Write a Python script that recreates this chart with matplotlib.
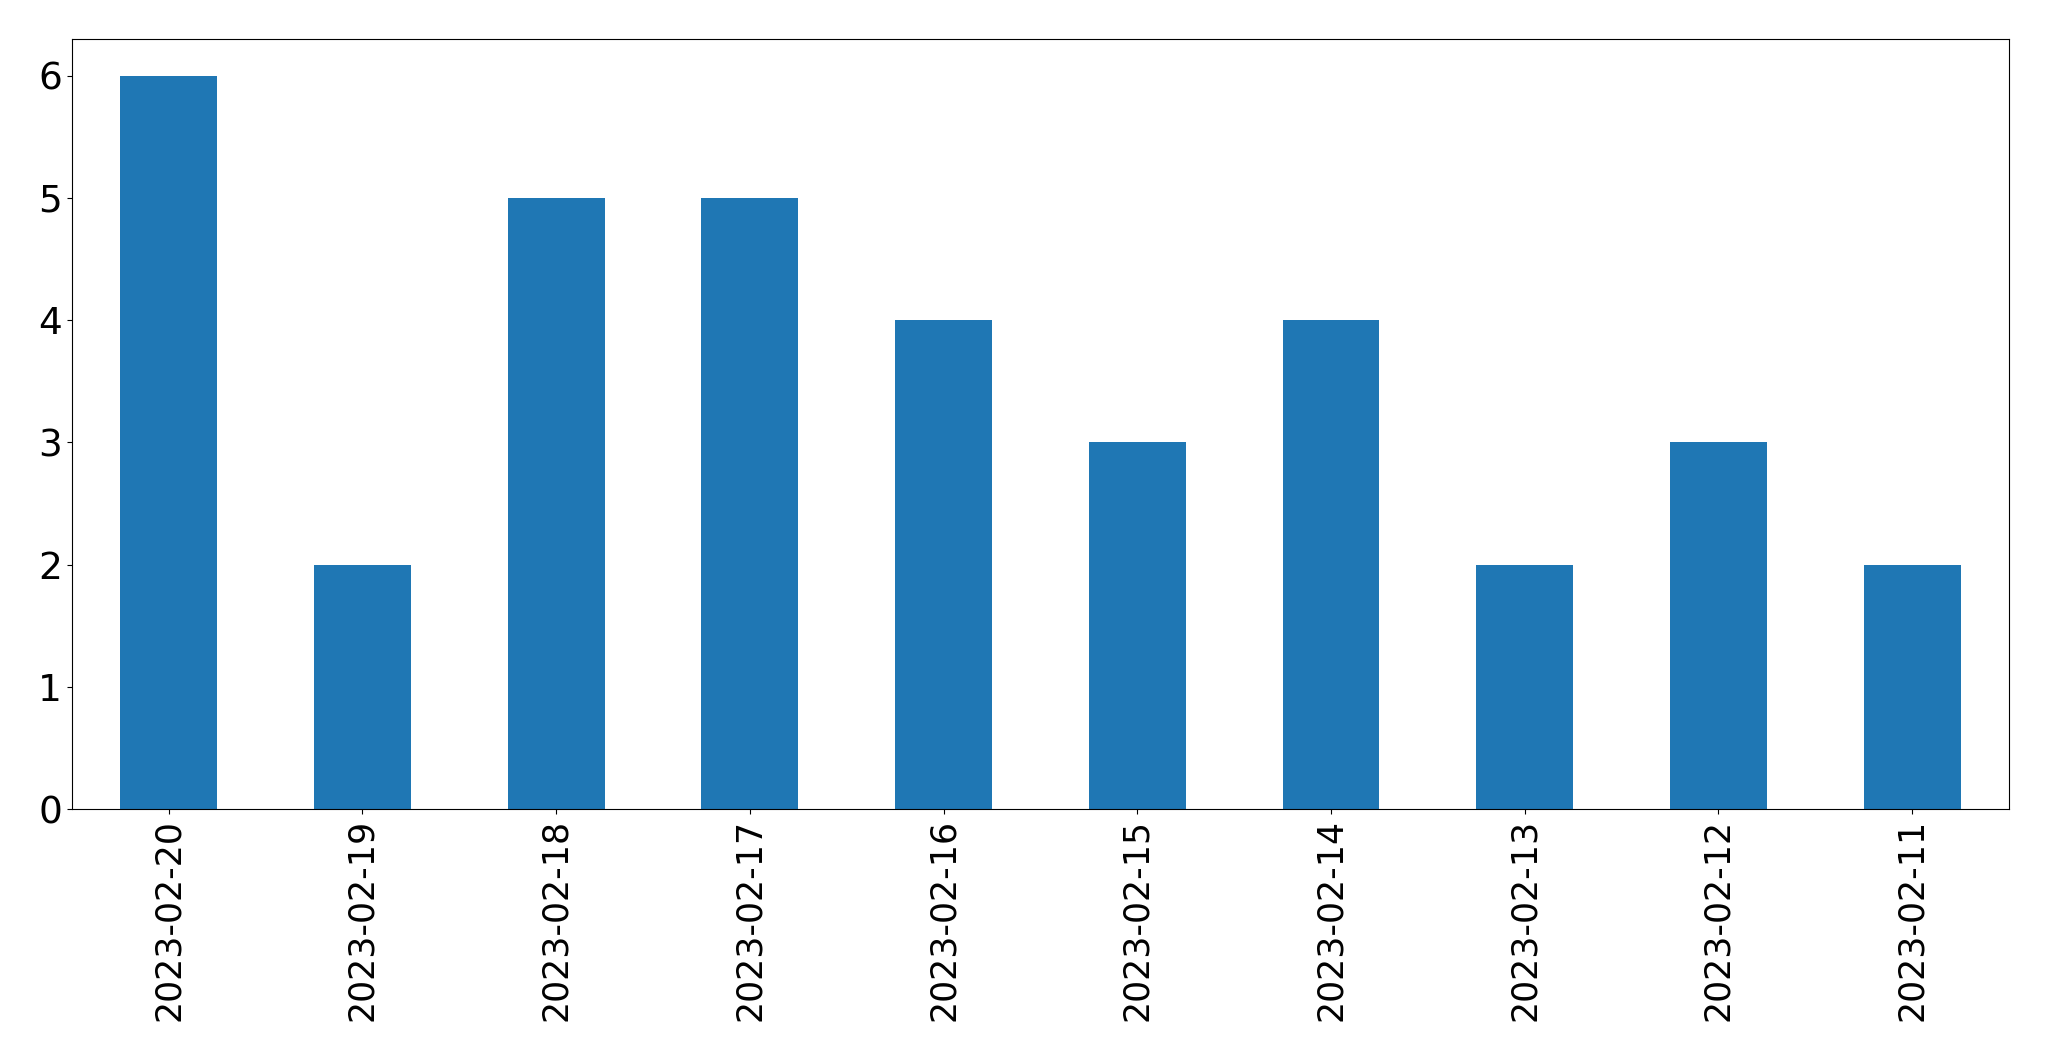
import matplotlib
matplotlib.use("Agg")
import matplotlib.pyplot as plt
import pandas as pd

# Daily counts, newest first (as in the original chart)
dates = ["2023-02-20", "2023-02-19", "2023-02-18", "2023-02-17", "2023-02-16",
         "2023-02-15", "2023-02-14", "2023-02-13", "2023-02-12", "2023-02-11"]
counts = [6, 2, 5, 5, 4, 3, 4, 2, 3, 2]

series = pd.Series(counts, index=dates)

fig = plt.figure(figsize=(20.49, 10.61), dpi=100)
ax = fig.add_subplot(111)
series.plot(kind="bar", ax=ax, color="#1f77b4")

ax.tick_params(axis="x", labelsize=25)
ax.tick_params(axis="y", labelsize=27)
ax.set_xlabel("")
fig.subplots_adjust(left=0.0351, right=0.9805, top=0.9632, bottom=0.2375)

plt.savefig("out.png", dpi=100)
plt.close()
